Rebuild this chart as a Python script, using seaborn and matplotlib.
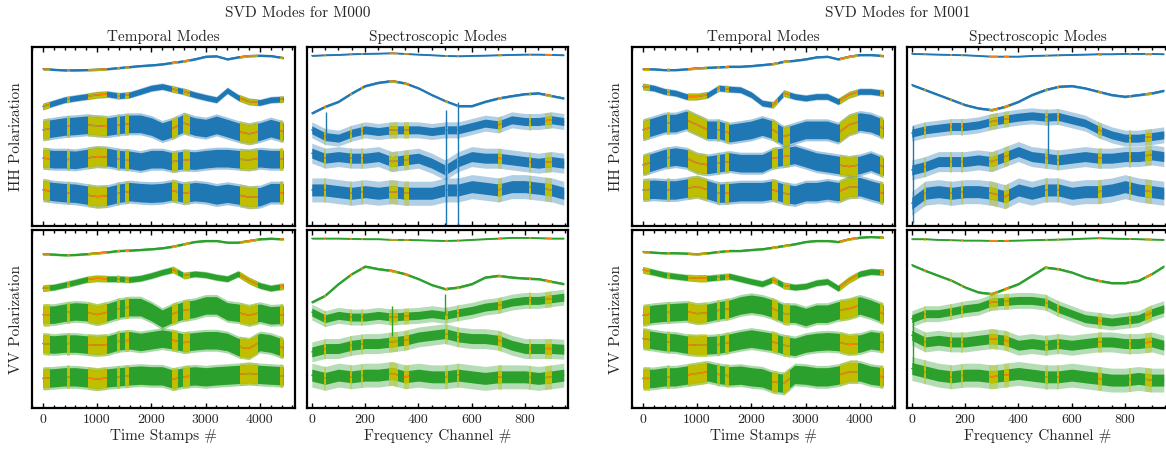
import numpy as np
import matplotlib
matplotlib.use("Agg")
import matplotlib.pyplot as plt
from matplotlib.path import Path
from matplotlib.ticker import FixedLocator, MultipleLocator
import seaborn as sns

# ---------------- data ----------------
# x grids
T_X = [0, 200, 400, 600, 800, 1000, 1200, 1400, 1600, 1800, 2000, 2200,
       2400, 2600, 2800, 3000, 3200, 3400, 3600, 3800, 4000, 4200, 4430]
S_X = [0, 50, 100, 150, 200, 250, 300, 350, 400, 450, 500, 550, 600, 650,
       700, 750, 800, 850, 900, 945]

# stacked mode centre lines (arbitrary units, mode 1 on top)
M000_HH_TEMPORAL = [
    [157, 156.3, 155.7, 155.7, 156, 156.3, 157, 158, 159, 160, 160.7, 161.7, 163.3, 164.7, 166.7, 169.3, 169.7, 166.7, 168.7, 170, 170.3, 170, 168],
    [119.3, 122.7, 126, 127.7, 129.3, 131, 131.7, 130, 131, 134.3, 137.7, 139.3, 136.7, 134.3, 131, 128.3, 126, 135.3, 128.3, 124.3, 123.3, 126, 126.7],
    [96, 97.7, 99.3, 100, 101, 100, 99.3, 101, 102, 102, 99.3, 94.3, 97.7, 102.7, 99.3, 97.7, 101, 97.7, 94.3, 92, 94.3, 97.7, 94.3],
    [67.7, 66.7, 66.7, 66, 67.7, 69.3, 68.7, 66.7, 66, 64.3, 66.7, 66.7, 64.3, 66, 65.3, 66.7, 67.7, 67.7, 66.7, 66, 67.7, 66.7, 66.7],
    [36, 34.3, 33.3, 32.7, 31, 29.3, 30, 32.7, 34.3, 33.3, 32.7, 33.3, 35.3, 32.7, 34.3, 33.3, 31, 32.7, 31, 28.7, 29.3, 33.3, 33.3],
]
M000_VV_TEMPORAL = [
    [155, 154.6, 154, 154.3, 155, 156, 157, 158.3, 158.6, 159.3, 160, 161, 162.6, 165, 167.3, 168.3, 168.3, 166.6, 166.6, 168.3, 170, 170.6, 170],
    [120.6, 121.6, 124, 126.6, 129.3, 130.6, 130, 130, 129.3, 130.6, 133.3, 136.6, 139.3, 133.3, 135, 134, 131.6, 130, 135, 128.3, 123.3, 120.6, 122.6],
    [94, 94, 96, 97.3, 96.6, 94, 96.6, 100, 101.6, 101.6, 96.6, 90, 95, 98.3, 100, 103.3, 103.3, 97.3, 96, 93.3, 96, 93.3, 94],
    [65, 64, 65, 65, 64, 63.3, 64, 67.3, 68.3, 66.6, 68.3, 70, 68.3, 66, 67.3, 68.3, 68.3, 66.6, 61.6, 60, 66.6, 65, 60.6],
    [30, 30.6, 31.6, 31.6, 30.6, 29.3, 30.6, 31.6, 32.6, 33.3, 32.6, 32.6, 29.3, 31.6, 32.6, 31.6, 32.6, 33.3, 34, 35, 34, 33.3, 32.6],
]
M001_HH_TEMPORAL = [
    [156.7, 156.7, 156, 156, 156.7, 157.7, 158.3, 158.7, 159.3, 159.3, 160, 161, 162, 164.3, 165.3, 166.7, 168.7, 169.3, 166.7, 169.3, 171, 171, 170],
    [139.3, 137.7, 134.3, 132.7, 129.3, 129.3, 131, 137.7, 136.7, 136, 131, 122.7, 121, 132.7, 129.3, 127.7, 129.3, 129.3, 124.3, 131, 134.3, 134.3, 132.7],
    [96, 99.3, 102.7, 102.7, 106, 101, 96, 96, 92.7, 94.3, 96, 99.3, 96, 89.3, 92.7, 96, 96, 96, 92.7, 101, 104.3, 102.7, 97.7],
    [61, 64.3, 67.7, 69.3, 67.7, 62.7, 61, 62.7, 64.3, 62.7, 62.7, 62.7, 67.7, 69.3, 71, 67.7, 64.3, 62.7, 61, 59.3, 61, 64.3, 59.3],
    [36, 36.7, 36, 36, 37.7, 39.3, 36, 32.7, 33.3, 34.3, 34.3, 34.3, 36, 32.7, 31, 34.3, 34.3, 36, 34.3, 38.7, 39.3, 36, 32.7],
]
M001_VV_TEMPORAL = [
    [157.3, 156.6, 156, 156, 155.6, 155, 156, 157.3, 158.3, 158.3, 159.3, 160, 161.6, 163.3, 165, 167.3, 168.3, 168.3, 167.3, 170, 171.6, 172.3, 171.6],
    [139, 136.6, 134, 132.6, 131.3, 130.6, 130.6, 131.6, 132.6, 130, 127.3, 125, 129.3, 123.3, 121.6, 122.6, 126, 127.3, 120.6, 129, 135, 137.3, 136.6],
    [93.3, 95, 96, 96.6, 97.3, 95, 96, 98.3, 100, 103.3, 105, 103.3, 100, 95, 95, 91.6, 95, 95, 98.3, 100, 103.3, 100, 95],
    [70, 68.3, 66.6, 66, 64, 63.3, 63.3, 64, 66, 68.3, 70, 68.3, 66.6, 63.3, 61.6, 65, 66.6, 67.3, 66.6, 64, 65, 68.3, 66.6],
    [30, 30, 31.6, 31.6, 33.3, 35, 36.6, 34, 32.6, 33.3, 31.6, 30.6, 26.6, 25, 34, 33.3, 31.6, 31.6, 33.3, 36.6, 36.6, 33.3, 31.6],
]

M000_HH_SPECTRAL = [
    [170, 170.7, 171, 171.7, 172, 172.3, 172.7, 172, 171.3, 170.7, 170, 169.7, 170, 170.3, 170.7, 171, 171.3, 171.3, 171, 170.7],
    [112.7, 119.3, 124.3, 132.7, 140, 143.3, 145, 142.7, 137.7, 131, 125, 120, 120, 124.3, 127.7, 130, 132, 132.7, 130, 127.7],
    [96, 89.3, 87.7, 92.7, 96, 94.3, 96, 96, 96, 94.3, 96, 96, 99.3, 102.7, 101, 106, 104.3, 104.3, 106, 104.3],
    [72.7, 67.7, 69.3, 67.7, 67.7, 69.3, 64.3, 66, 67.7, 62.7, 56, 64.3, 69.3, 67.7, 67.7, 66, 64.3, 62.7, 64.3, 62.7],
    [36, 36, 34.3, 32.7, 34.3, 32.7, 34.3, 32.7, 32.7, 32.7, 36, 36, 39.3, 37.7, 36, 39.3, 39.3, 37.7, 36, 32.7],
]
M000_VV_SPECTRAL = [
    [170.6, 170.6, 170.6, 170.3, 170, 170, 169.3, 169.3, 169, 168.6, 168.3, 168.6, 169.3, 170, 170.6, 171.3, 171.3, 171, 170.6, 170.6],
    [106.6, 113.3, 125, 135, 142.6, 140, 138.3, 135, 130, 124, 120, 121.6, 125, 131.6, 133.3, 131.6, 130.6, 130, 127.3, 125],
    [96.6, 90, 93.3, 91.6, 91.6, 93.3, 91.6, 92.6, 93.3, 95, 93.3, 96, 98.3, 101.6, 103.3, 106.6, 108.3, 108.3, 110, 111.6],
    [56.6, 60, 60, 63.3, 65, 65, 66.6, 68.3, 71.6, 73.3, 75, 71.6, 70, 70, 68.3, 63.3, 60, 60, 60, 59.3],
    [33.3, 30, 33.3, 31.6, 33.3, 33.3, 35, 31.6, 33.3, 31.6, 31.6, 33.3, 31.6, 30, 31.6, 31.6, 31.6, 30, 31.6, 33.3],
]
M001_HH_SPECTRAL = [
    [172, 171.7, 171.3, 171, 170.7, 170, 169.3, 169.3, 169.3, 170, 170.3, 170.7, 171, 171.3, 171.7, 171.7, 172, 172, 172, 171.7],
    [141, 136, 131, 126, 121, 117.7, 116, 119.3, 124.3, 131, 136, 139.3, 140, 137.7, 134.3, 131, 129.3, 131, 132.7, 135.3],
    [92.7, 96, 97.7, 99.3, 99.3, 101, 104.3, 106.7, 108.7, 110, 108.7, 109.3, 106, 102.7, 96, 91, 87.7, 87.7, 89.3, 91],
    [56, 59.3, 64.3, 64.3, 64.3, 66, 64.3, 69.3, 74.3, 69.3, 67.7, 66, 67.7, 69.3, 67.7, 67.7, 69.3, 69.3, 71, 69.3],
    [22.7, 32.7, 34.3, 32.7, 34.3, 34.3, 32.7, 29.3, 36, 32.7, 36, 36, 32.7, 34.3, 34.3, 36, 39.3, 36, 34.3, 32.7],
]
M001_VV_SPECTRAL = [
    [170, 170, 169.3, 169, 168.6, 168.6, 168.3, 168.3, 168.6, 169, 169.3, 169.6, 170, 170.6, 171, 170.6, 170.3, 170, 169.6, 169.3],
    [144, 138.3, 133.3, 128.3, 121.6, 116.6, 115, 120, 125, 133.3, 141.6, 140, 136.6, 131.6, 128.3, 126, 126, 128.3, 135, 142.6],
    [90, 95, 95, 97.3, 100, 101.6, 106.6, 107.3, 108.3, 108.3, 106.6, 100, 95, 90, 88.3, 86.6, 88.3, 90, 96, 100],
    [73.3, 66.6, 68.3, 66.6, 66.6, 68.3, 70, 68.3, 63.3, 65, 63.3, 65, 63.3, 65, 66.6, 66.6, 65, 65, 66.6, 63.3],
    [40, 36.6, 33.3, 31.6, 33.3, 33.3, 31.6, 33.3, 35, 33.3, 31.6, 31.6, 33.3, 31.6, 30, 28.3, 28.3, 30, 28.3, 28.3],
]

# noise half-amplitude of each mode (outer extent)
T_HALFWIDTH = [1.3, 3.5, 11, 11, 11.5]
S_HALFWIDTH = [0.8, 1.4, 8, 10, 12]

# flagged (interpolated) intervals
T_FLAGS = [(0, 130), (440, 510), (840, 1180), (1360, 1420), (1510, 1580),
           (2380, 2500), (2590, 2710), (3640, 3970), (4370, 4430)]
S_FLAGS = [(45, 55), (145, 152), (185, 192), (290, 322), (345, 365),
           (500, 510), (545, 552), (700, 712), (815, 822), (875, 900)]

# prominent single-channel spikes: (channel, low, high)
M000_HH_SPIKES = [(52, 86, 114), (505, 0, 116), (550, 0, 124)]
M000_VV_SPIKES = [(300, 73, 103), (500, 95, 115)]
M001_HH_SPIKES = [(3, 3, 100), (510, 69, 111)]
M001_VV_SPIKES = [(3, 40, 88)]

DATASETS = ["M000", "M001"]
POLS = ["HH", "VV"]

# ---------------- style ----------------
BLUE = "#1f77b4"
GREEN = "#2ca02c"
YELLOW = "#bfbf00"
ORANGE = "#ff7f0e"

sns.set_style("ticks")
plt.rcParams["font.family"] = ["serif"]
plt.rcParams["font.serif"] = ["cmr10", "DejaVu Serif"]
plt.rcParams["axes.unicode_minus"] = False

W, H = 1166, 450
fig = plt.figure(figsize=(W / 100, H / 100), dpi=100)


def add_ax(l, t, r, b):
    return fig.add_axes([l / W, 1 - b / H, (r - l) / W, (b - t) / H])


def spans_path(flags):
    verts, codes = [], []
    for a, b in flags:
        verts += [(a, -1e4), (b, -1e4), (b, 1e4), (a, 1e4), (a, -1e4)]
        codes += [Path.MOVETO, Path.LINETO, Path.LINETO, Path.LINETO, Path.CLOSEPOLY]
    return Path(verts, codes)


def draw_mode(ax, x, c, hw, color, flags, inner_frac, outer_alpha):
    x = np.asarray(x, float)
    c = np.asarray(c, float)
    fp = spans_path(flags)
    hi = hw * inner_frac
    ax.fill_between(x, c - hw, c + hw, color=color, alpha=outer_alpha, lw=0)
    ax.fill_between(x, c - hi, c + hi, color=color, lw=0)
    sns.lineplot(x=x, y=c, ax=ax, color=color, lw=1.0, sort=False, legend=False)
    yo = ax.fill_between(x, c - hw, c + hw, color=YELLOW, alpha=outer_alpha + 0.05, lw=0)
    yi = ax.fill_between(x, c - hi, c + hi, color=YELLOW, lw=0)
    for art in (yo, yi):
        art.set_clip_path(fp, ax.transData)
    n = len(ax.lines)
    sns.lineplot(x=x, y=c, ax=ax, color=ORANGE, lw=1.0, sort=False, legend=False)
    for ln in ax.lines[n:]:
        ln.set_clip_path(fp, ax.transData)


def style_ax(ax, temporal, bottom_row):
    for sp in ax.spines.values():
        sp.set_visible(True)
        sp.set_linewidth(1.6)
        sp.set_color("black")
    if temporal:
        ax.set_xlim(-205, 4648)
        ax.xaxis.set_major_locator(FixedLocator([0, 1000, 2000, 3000, 4000]))
        ax.xaxis.set_minor_locator(MultipleLocator(200))
    else:
        ax.set_xlim(-19, 962)
        ax.xaxis.set_major_locator(FixedLocator([0, 200, 400, 600, 800]))
        ax.xaxis.set_minor_locator(MultipleLocator(50))
    ax.set_ylim(0, 179)
    ax.set_yticks([])
    ax.tick_params(axis="x", which="both", direction="in", top=True, bottom=True,
                   width=1.0, color="black", labelsize=10, pad=4,
                   labelbottom=bottom_row)
    ax.tick_params(axis="x", which="major", length=3.5)
    ax.tick_params(axis="x", which="minor", length=2.2)
    ax.set_xlabel("")
    ax.set_ylabel("")


panels = {
    ("M000", "HH"): (M000_HH_TEMPORAL, M000_HH_SPECTRAL, M000_HH_SPIKES),
    ("M000", "VV"): (M000_VV_TEMPORAL, M000_VV_SPECTRAL, M000_VV_SPIKES),
    ("M001", "HH"): (M001_HH_TEMPORAL, M001_HH_SPECTRAL, M001_HH_SPIKES),
    ("M001", "VV"): (M001_VV_TEMPORAL, M001_VV_SPECTRAL, M001_VV_SPIKES),
}

rows = {"HH": (46.7, 226.0), "VV": (230.0, 408.3)}
for g, ds in enumerate(DATASETS):
    off = 600 * g
    fig.text((298 + off) / W, 1 - 13 / H, f"SVD Modes for {ds}",
             ha="center", va="center", fontsize=11)
    for pol in POLS:
        top, bot = rows[pol]
        color = BLUE if pol == "HH" else GREEN
        tmodes, smodes, spikes = panels[(ds, pol)]
        bottom_row = pol == "VV"

        axt = add_ax(31.7 + off, top, 295.0 + off, bot)
        for k, c in enumerate(tmodes):
            draw_mode(axt, T_X, c, T_HALFWIDTH[k], color, T_FLAGS,
                      inner_frac=0.8, outer_alpha=0.4)
        style_ax(axt, True, bottom_row)
        axt.set_ylabel(f"{pol} Polarization", fontsize=11, labelpad=6)

        axs = add_ax(306.7 + off, top, 568.3 + off, bot)
        for k, c in enumerate(smodes):
            inner = 0.8 if k < 2 else 0.5
            draw_mode(axs, S_X, c, S_HALFWIDTH[k], color, S_FLAGS,
                      inner_frac=inner, outer_alpha=0.35)
        for ch, lo, hi in spikes:
            axs.vlines(ch, lo, hi, color=color, lw=1.0)
        style_ax(axs, False, bottom_row)

        if pol == "HH":
            axt.set_title("Temporal Modes", fontsize=11, pad=4)
            axs.set_title("Spectroscopic Modes", fontsize=11, pad=4)
        else:
            axt.set_xlabel("Time Stamps #", fontsize=11, labelpad=2)
            axs.set_xlabel("Frequency Channel #", fontsize=11, labelpad=2)

fig.savefig("out.png", dpi=100)
